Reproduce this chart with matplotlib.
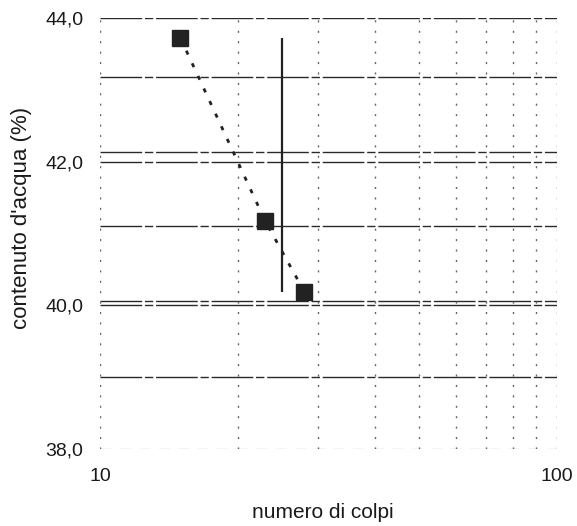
import matplotlib
matplotlib.use("Agg")
import matplotlib.pyplot as plt
from matplotlib.ticker import FixedLocator, NullLocator

plt.rcParams['font.family'] = ['Liberation Sans', 'DejaVu Sans']

# Casagrande test: number of blows vs water content
colpi = [15, 23, 28]
acqua = [43.72, 41.17, 40.19]
colpi_ll = 25  # reference at 25 blows

# reference levels drawn across the chart
livelli_h = [44.0, 43.18, 42.14, 42.0, 41.1, 40.06, 40.0, 39.0]
livelli_v = [10, 20, 30, 40, 50, 60, 70, 80, 90, 100]

y_ticks = [38.0, 40.0, 42.0, 44.0]
y_labels = ["38,0", "40,0", "42,0", "44,0"]
x_ticks = [10, 100]
x_labels = ["10", "100"]

fig = plt.figure(figsize=(5.77, 5.26), dpi=100)
ax = fig.add_axes([100 / 577, 1 - 449 / 526, 457 / 577, 431 / 526])
ax.set_xscale('log')
ax.set_xlim(10, 100)
ax.set_ylim(38.0, 44.0)

for s in ax.spines.values():
    s.set_visible(False)

for y in livelli_h:
    ax.axhline(y, color='#2a2a2a', lw=1.0, ls=(0, (30, 2, 6, 2)), zorder=1)
ax.axhline(38.0, color='#c8c8c8', lw=1.0, ls=(0, (8, 6)), zorder=1)

for x in livelli_v:
    ax.axvline(x, color='#666666', lw=1.0, ls=(0, (1.5, 6)), zorder=1)

ax.plot(colpi, acqua, color='#222222', lw=2.0, ls=(0, (1.5, 3.5)),
        marker='s', markersize=11.5, markerfacecolor='#222222',
        markeredgecolor='#222222', zorder=3)

ax.vlines(colpi_ll, min(acqua), max(acqua), color='#222222', lw=1.6, zorder=2)

ax.xaxis.set_major_locator(FixedLocator(x_ticks))
ax.xaxis.set_minor_locator(NullLocator())
ax.set_xticklabels(x_labels)
ax.set_yticks(y_ticks)
ax.set_yticklabels(y_labels)
ax.tick_params(axis='both', length=0, labelsize=14, colors='#1a1a1a')
ax.tick_params(axis='y', pad=12)
ax.tick_params(axis='x', pad=14)

fig.text(323 / 577, 1 - 513 / 526, "numero di colpi", ha='center', va='center',
         fontsize=15, color='#1a1a1a')
fig.text(22 / 577, 1 - 218 / 526, "contenuto d'acqua (%)", ha='center', va='center',
         rotation=90, fontsize=16, color='#1a1a1a')

fig.savefig("out.png", dpi=100)
